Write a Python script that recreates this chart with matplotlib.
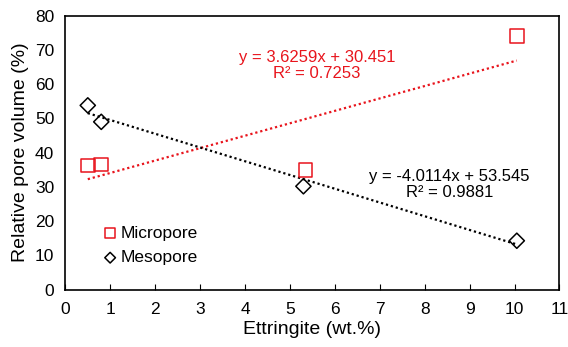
import numpy as np
import matplotlib
matplotlib.use("Agg")
import matplotlib.pyplot as plt

plt.rcParams['font.family'] = ['Liberation Sans', 'DejaVu Sans']

ettringite_micro = [0.5, 0.8, 5.35, 10.05]
micropore = [36.2, 36.5, 35.0, 74.0]
ettringite_meso = [0.5, 0.8, 5.3, 10.05]
mesopore = [53.8, 49.0, 30.2, 14.3]

micro_fit = (3.6259, 30.451)
meso_fit = (-4.0114, 53.545)

fig = plt.figure(figsize=(5.68, 3.47), dpi=100)
ax = fig.add_axes([0.115, 0.165, 0.87, 0.79])

ax.scatter(ettringite_micro, micropore, marker='s', s=95, facecolors='none',
           edgecolors='#e8141c', linewidths=1.1, label='Micropore', zorder=3)
ax.scatter(ettringite_meso, mesopore, marker='D', s=60, facecolors='none',
           edgecolors='black', linewidths=1.1, label='Mesopore', zorder=3)

xf = np.array([min(ettringite_micro), max(ettringite_micro)])
ax.plot(xf, micro_fit[0] * xf + micro_fit[1], linestyle=(0, (1, 1.3)), color='#e8141c', lw=1.6)
xf = np.array([min(ettringite_meso), max(ettringite_meso)])
ax.plot(xf, meso_fit[0] * xf + meso_fit[1], linestyle=(0, (1, 1.3)), color='black', lw=1.6)

ax.text(5.6, 65.5, "y = 3.6259x + 30.451\nR² = 0.7253", color='#e8141c',
        ha='center', va='center', fontsize=12, linespacing=1.1)
ax.text(8.55, 30.8, "y = -4.0114x + 53.545\nR² = 0.9881", color='black',
        ha='center', va='center', fontsize=12, linespacing=1.1)

ax.set_xlim(0, 11)
ax.set_ylim(0, 80)
ax.set_xticks(range(0, 12))
ax.set_yticks(range(0, 81, 10))
ax.tick_params(axis='x', direction='in', length=4, labelsize=12.5, pad=9)
ax.tick_params(axis='y', direction='in', length=0, labelsize=12.5, pad=8)
ax.set_xlabel("Ettringite (wt.%)", fontsize=14, labelpad=3)
ax.set_ylabel("Relative pore volume (%)", fontsize=14, labelpad=4)
for s in ax.spines.values():
    s.set_linewidth(1.2)

ax.legend(loc='lower left', bbox_to_anchor=(0.045, 0.045), frameon=False, fontsize=12.5,
          handletextpad=0.0, labelspacing=0.55, borderpad=0.2, handlelength=1.2,
          markerscale=0.7)

fig.savefig("out.png", dpi=100)
